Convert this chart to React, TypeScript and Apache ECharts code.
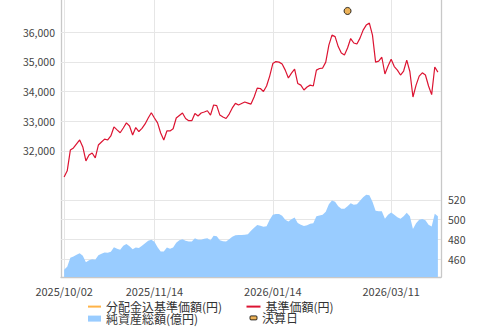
import React, { useEffect, useRef } from 'react';
import * as echarts from 'echarts';

// Japanese market holidays in the period (fund business-day calendar)
const HOLIDAYS = [
  '2025-10-13', '2025-11-03', '2025-11-24', '2025-12-31', '2026-01-01',
  '2026-01-02', '2026-01-12', '2026-02-11', '2026-02-23', '2026-03-20',
];
const START_DATE = '2025-10-02';
const DAY_COUNT = 121;

function businessDays(start: string, count: number): string[] {
  const out: string[] = [];
  const d = new Date(start + 'T00:00:00Z');
  while (out.length < count) {
    const dow = d.getUTCDay();
    const iso = d.toISOString().slice(0, 10);
    if (dow !== 0 && dow !== 6 && !HOLIDAYS.includes(iso)) out.push(iso.replace(/-/g, '/'));
    d.setUTCDate(d.getUTCDate() + 1);
  }
  return out;
}

const DATES = businessDays(START_DATE, DAY_COUNT);
const TICK_LABELS = ['2025/10/02', '2025/11/14', '2026/01/14', '2026/03/11'];

const PRICE = [
  31125, 31330, 32030, 32100, 32235, 32370, 32135, 31665, 31865, 31930,
  31765, 32200, 32300, 32400, 32370, 32505, 32810, 32710, 32615, 32775,
  32945, 32840, 32540, 32790, 32655, 32760, 32910, 33110, 33290, 33110,
  32945, 32605, 32370, 32675, 32675, 32750, 33110, 33195, 33280, 33095,
  33020, 33020, 33265, 33180, 33280, 33315, 33355, 33210, 33550, 33530,
  33210, 33145, 33095, 33245, 33450, 33605, 33550, 33600, 33650, 33615,
  33580, 33820, 34120, 34105, 34005, 34190, 34525, 34945, 35015, 34995,
  34930, 34725, 34460, 34625, 34760, 34275, 34220, 34055, 34155, 34220,
  34190, 34725, 34780, 34795, 34995, 35570, 35905, 35855, 35520, 35300,
  35235, 35470, 35790, 35640, 35605, 35805, 36075, 36245, 36310, 35905,
  34995, 35030, 35160, 34595, 34865, 35090, 34845, 34725, 34560, 34695,
  35060, 34680, 33820, 34220, 34525, 34635, 34560, 34190, 33900, 34830,
  34660,
];

const NET_ASSETS = [
  449.2, 452.2, 461.3, 462.6, 464.4, 465.9, 463.3, 456.8, 458.8, 459.8,
  459.3, 463.8, 465.4, 466.7, 466.4, 467.4, 471.9, 470.4, 469.4, 473.5,
  475.2, 473.0, 469.9, 471.7, 471.1, 473.5, 476.0, 478.5, 479.5, 477.5,
  471.9, 467.7, 467.7, 471.7, 470.4, 471.7, 476.5, 479.0, 480.0, 478.5,
  477.8, 477.8, 481.0, 479.5, 479.5, 480.5, 481.0, 479.0, 483.6, 483.1,
  479.0, 478.0, 477.8, 480.0, 482.6, 484.1, 484.3, 484.3, 484.6, 485.1,
  488.6, 491.7, 494.4, 493.7, 492.7, 493.2, 499.8, 504.8, 505.5, 505.5,
  503.8, 499.8, 498.0, 500.3, 502.1, 496.4, 494.7, 493.4, 494.2, 495.7,
  496.2, 503.3, 504.1, 504.8, 507.9, 515.5, 519.3, 518.0, 513.4, 510.9,
  510.9, 513.4, 516.5, 515.0, 515.5, 519.0, 522.5, 525.0, 524.5, 518.0,
  508.9, 508.4, 508.4, 500.8, 504.8, 507.2, 504.8, 502.3, 500.8, 503.3,
  506.9, 503.3, 490.4, 496.2, 499.8, 500.5, 499.3, 494.7, 493.0, 505.8,
  503.3,
];

const DECISION_DATE = '2026/02/18';
const DECISION_MARK = 36720;

const PRICE_TICKS = [32000, 33000, 34000, 35000, 36000];
const ASSET_TICKS = [460, 480, 500, 520];

const FONT = "'Noto Sans CJK JP', 'Noto Sans', sans-serif";
const GRID_COLOR = '#e6e6e6';
const AXIS_COLOR = '#c8c8c8';

export default function App() {
  const ref = useRef<HTMLDivElement>(null);

  useEffect(() => {
    if (!ref.current) return;
    const chart = echarts.init(ref.current, undefined, { renderer: 'svg' });

    const categories = ['', ...DATES, ' '];
    const pad = (arr: number[]) => [null, ...arr, null];

    const legendText = { fontSize: 12, color: '#333', lineHeight: 11.3, fontFamily: FONT };

    const option: any = {
      animation: false,
      textStyle: { fontFamily: FONT },
      grid: { left: 61, right: 49, top: 0, bottom: 50, containLabel: false },
      xAxis: {
        type: 'category',
        data: categories,
        boundaryGap: false,
        axisLine: { show: true, lineStyle: { color: AXIS_COLOR, width: 1.3 } },
        axisTick: { show: false },
        axisLabel: {
          interval: (_i: number, v: string) => TICK_LABELS.includes(v),
          color: '#444',
          fontSize: 11,
          fontFamily: FONT,
          margin: 8,
        },
        splitLine: {
          show: true,
          interval: (_i: number, v: string) => TICK_LABELS.includes(v),
          lineStyle: { color: GRID_COLOR, width: 1 },
        },
      },
      yAxis: [
        {
          type: 'value',
          position: 'left',
          min: 27750,
          max: 37090,
          minInterval: 1000,
          maxInterval: 1000,
          axisLine: { show: true, lineStyle: { color: AXIS_COLOR, width: 1.3 } },
          axisTick: { show: false },
          splitLine: { show: false },
          axisLabel: {
            margin: 6,
            color: '#444',
            fontSize: 10.5,
            fontFamily: FONT,
            formatter: (v: number) =>
              PRICE_TICKS.includes(Math.round(v)) && Math.abs(v - Math.round(v)) < 1e-6
                ? Math.round(v).toLocaleString('en-US')
                : '',
          },
        },
        {
          type: 'value',
          position: 'right',
          min: 441.8,
          max: 722.4,
          minInterval: 20,
          maxInterval: 20,
          axisLine: { show: true, lineStyle: { color: AXIS_COLOR, width: 1.3 } },
          axisTick: { show: false },
          splitLine: { show: false },
          axisLabel: {
            margin: 7,
            color: '#444',
            fontSize: 10.5,
            fontFamily: FONT,
            formatter: (v: number) =>
              ASSET_TICKS.some((t) => Math.abs(t - v) < 1e-6) ? String(Math.round(v)) : '',
          },
        },
      ],
      legend: [
        {
          left: 87,
          top: 300.6,
          orient: 'vertical',
          itemGap: 0,
          padding: 0,
          itemWidth: 13,
          itemHeight: 6,
          textStyle: legendText,
          data: [
            { name: '分配金込基準価額(円)', itemStyle: { opacity: 0 } },
            { name: '純資産総額(億円)', icon: 'rect', itemStyle: { color: '#99ccff' } },
          ],
        },
        {
          left: 245.5,
          top: 300.6,
          orient: 'vertical',
          itemGap: 0,
          padding: 0,
          itemWidth: 14,
          itemHeight: 6,
          textStyle: legendText,
          data: [{ name: '基準価額(円)', itemStyle: { opacity: 0 } }],
        },
        {
          left: 249.5,
          top: 311.9,
          orient: 'vertical',
          itemGap: 0,
          padding: 0,
          itemWidth: 7,
          itemHeight: 4,
          textStyle: legendText,
          data: [
            {
              name: '決算日',
              icon: 'roundRect',
              itemStyle: { color: '#e8a030', borderColor: '#000', borderWidth: 1 },
            },
          ],
        },
      ],
      series: [
        {
          name: '純資産総額(億円)',
          type: 'line',
          yAxisIndex: 1,
          data: pad(NET_ASSETS),
          symbol: 'none',
          showSymbol: false,
          lineStyle: { width: 0, color: '#99ccff' },
          itemStyle: { color: '#99ccff' },
          areaStyle: { color: '#99ccff', opacity: 1 },
          z: 2,
          markLine: {
            silent: true,
            z: 1,
            symbol: 'none',
            label: { show: false },
            lineStyle: { color: GRID_COLOR, type: 'solid', width: 1 },
            data: ASSET_TICKS.map((t) => ({ yAxis: t })),
          },
        },
        {
          name: '分配金込基準価額(円)',
          type: 'line',
          yAxisIndex: 0,
          data: [],
          symbol: 'none',
          lineStyle: { width: 1.3, color: '#ffb347' },
          itemStyle: { color: '#ffb347' },
        },
        {
          name: '基準価額(円)',
          type: 'line',
          yAxisIndex: 0,
          data: pad(PRICE),
          symbol: 'none',
          showSymbol: false,
          lineStyle: { width: 1.2, color: '#dc1432' },
          itemStyle: { color: '#dc1432' },
          z: 3,
          markLine: {
            silent: true,
            z: 1,
            symbol: 'none',
            label: { show: false },
            lineStyle: { color: GRID_COLOR, type: 'solid', width: 1 },
            data: PRICE_TICKS.map((t) => ({ yAxis: t })),
          },
        },
        {
          name: '決算日',
          type: 'scatter',
          yAxisIndex: 0,
          data: [[DECISION_DATE, DECISION_MARK]],
          symbol: 'circle',
          symbolSize: 7,
          itemStyle: { color: '#e8a030', borderColor: '#000', borderWidth: 1 },
          z: 4,
        },
      ],
    };

    chart.setOption(option);
    return () => chart.dispose();
  }, []);

  return (
    <div
      ref={ref}
      style={{ position: 'fixed', left: 0, top: 0, width: 490, height: 327, background: '#fff' }}
    />
  );
}
